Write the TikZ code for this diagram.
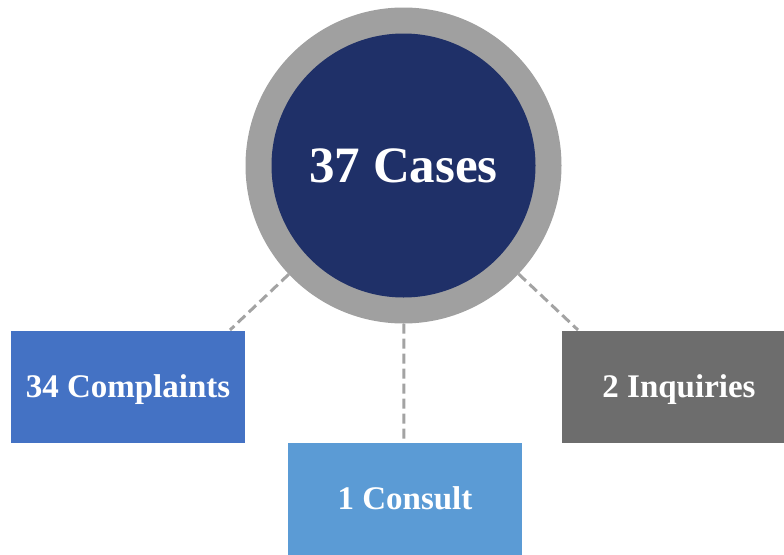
\documentclass[tikz,border=0pt]{standalone}
\usepackage{fontspec}
\setmainfont{Liberation Serif}
\definecolor{navy}{HTML}{1F3068}
\definecolor{ringgray}{HTML}{A0A0A0}
\definecolor{dashgray}{HTML}{A3A3A3}
\definecolor{blueA}{HTML}{4472C4}
\definecolor{blueB}{HTML}{5B9BD5}
\definecolor{grayC}{HTML}{6D6D6D}
\tikzset{
  leaf/.style={rectangle, draw=none, minimum width=234pt, minimum height=112pt,
    text=white, font=\fontsize{33}{40}\selectfont\bfseries,
    text height=22pt, text depth=0pt, inner sep=0pt},
  link/.style={draw=dashgray, line width=3pt, dash pattern=on 10pt off 5pt}
}
\begin{document}
\begin{tikzpicture}[x=1pt,y=-1pt]
  \useasboundingbox (0,0) rectangle (784,554);
  \clip (0,0) rectangle (784,554);
  % outer ring
  \node[circle, fill=ringgray, minimum size=316pt, inner sep=0pt] (ring) at (403.5,165.5) {};
  % category boxes
  \node[leaf, fill=blueA] (cmp) at (128,386.5) {34 Complaints};
  \node[leaf, fill=blueB] (cns) at (405,498.5) {1 Consult};
  \node[leaf, fill=grayC] (inq) at (679,386.5) {2 Inquiries};
  % attachment points on box tops
  \coordinate (pa) at (230,330);
  \coordinate (pb) at (404,442.5);
  \coordinate (pc) at (578,330);
  \draw[link] (ring) -- (pa);
  \draw[link] (ring) -- (pb);
  \draw[link] (ring) -- (pc);
  % centre disc
  \node[circle, fill=navy, minimum size=264pt, inner sep=0pt, text=white,
        font=\fontsize{51}{60}\selectfont\bfseries, text height=33pt, text depth=0pt]
        (core) at (403.5,165.5) {37 Cases};
\end{tikzpicture}
\end{document}
